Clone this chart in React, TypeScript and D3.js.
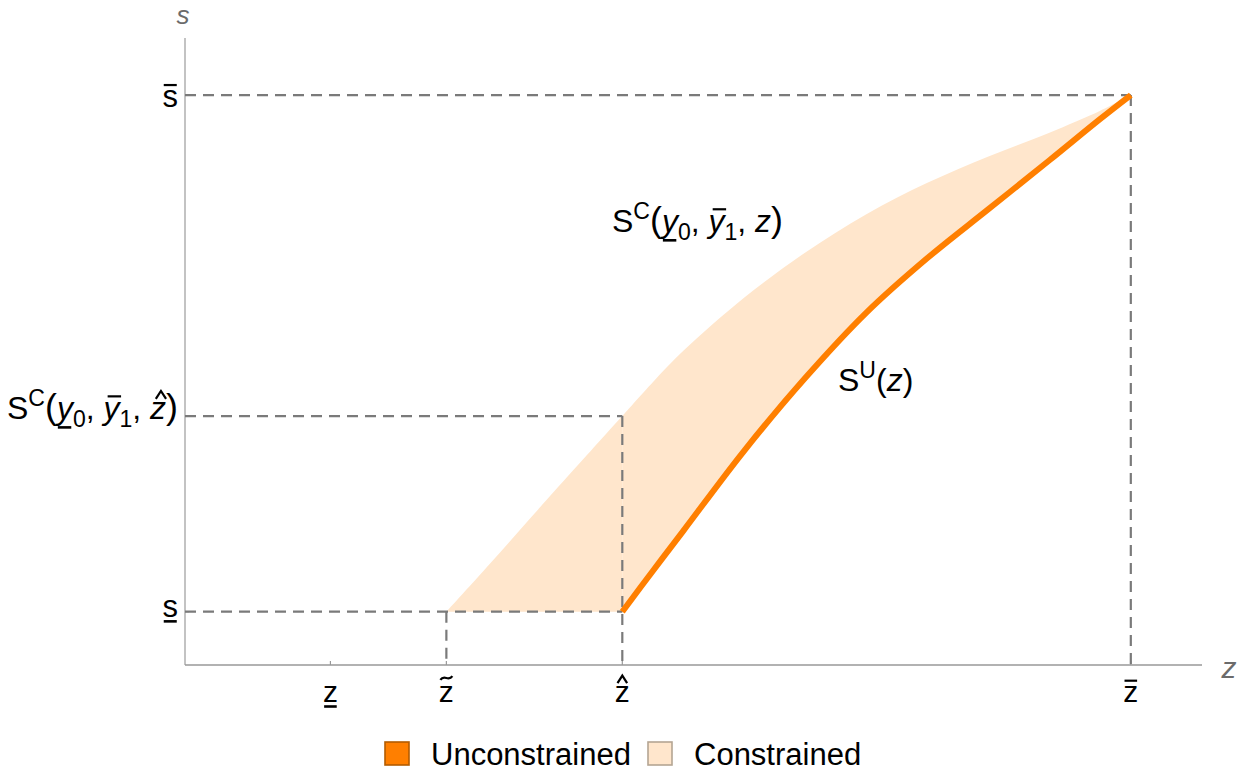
import React, { useRef, useEffect } from 'react';
import * as d3 from 'd3';

// unconstrained schedule S^U(z), from z-hat to z-bar
const zUnconstrained = [0.43, 0.46, 0.49, 0.55, 0.61, 0.67, 0.73, 0.79, 0.85, 0.90, 0.93];
const sUnconstrained = [0.085, 0.150, 0.214, 0.342, 0.458, 0.562, 0.649, 0.727, 0.805, 0.871, 0.909];

// upper edge of the constrained region S^C(y0, y1, z), from z-tilde to z-bar
const zConstrained = [0.257, 0.30, 0.35, 0.43, 0.46, 0.49, 0.55, 0.61, 0.67, 0.73, 0.79, 0.85, 0.90, 0.93];
const sConstrained = [0.085, 0.162, 0.253, 0.397, 0.451, 0.501, 0.586, 0.658, 0.719, 0.769, 0.811, 0.849, 0.884, 0.909];

// ticks: z_low, z_tilde, z_hat, z_bar / s_low, S^C(.., z_hat), s_bar
const zTicks = [0.143, 0.257, 0.43, 0.93];
const zTickMarks = ['under', 'tilde', 'hat', 'over'];
const sTicks = [0.085, 0.397, 0.909];

const legendLabels = ['Unconstrained', 'Constrained'];

const ORANGE = '#ff7f00';
const LIGHT = '#ffe6cc';
const DASH = '#7a7a7a';
const FONT = '"Liberation Sans", Arial, Helvetica, sans-serif';

type Seg = { t: string; it?: boolean; sup?: boolean; sub?: boolean; mark?: string; big?: boolean };

// text with sub/superscripts and accents drawn on top of chosen letters
const mathText = (g: any, x: number, y: number, anchor: string, segs: Seg[], fs: number, color = '#000') => {
	const text = g.append('text').attr('x', x).attr('y', y).attr('text-anchor', anchor)
		.attr('font-size', fs).attr('fill', color).attr('font-family', FONT)
	let cur = 0
	const info: any[] = []
	segs.forEach(s => {
		const off = s.sup ? -0.42 * fs : s.sub ? 0.24 * fs : 0
		const size = s.sup || s.sub ? 0.72 * fs : s.big ? 1.12 * fs : fs
		text.append('tspan').attr('dy', off - cur).attr('font-size', size)
			.attr('font-style', s.it ? 'italic' : 'normal').text(s.t)
		cur = off
		info.push({ ...s, size, base: y + off })
	})
	const node = text.node()
	let idx = 0
	info.forEach(s => {
		if (s.mark) {
			const e = node.getExtentOfChar(idx)
			const sz = s.size
			const cx = e.x + e.width / 2 + (s.it ? 0.05 * sz : 0)
			const hw = e.width * 0.42
			const m = g.append('path').attr('fill', 'none').attr('stroke', color).attr('stroke-width', 2.2)
			if (s.mark === 'over') {
				const yy = s.base - 0.71 * sz
				m.attr('d', `M${cx - hw + (s.it ? 0.04 * sz : 0)},${yy}H${cx + hw + (s.it ? 0.04 * sz : 0)}`)
			} else if (s.mark === 'under') {
				const yy = s.base + (s.t === 'y' ? 0.26 : 0.15) * sz
				const sh = s.it ? -0.06 * sz : 0
				m.attr('d', `M${cx - hw + sh},${yy}H${cx + hw + sh}`).attr('stroke-width', 2.6)
			} else if (s.mark === 'hat') {
				const b = s.base - 0.63 * sz, t = s.base - 0.88 * sz, sh = s.it ? 0.04 * sz : 0
				m.attr('d', `M${cx + sh - 0.16 * sz},${b}L${cx + sh},${t}L${cx + sh + 0.16 * sz},${b}`)
			} else if (s.mark === 'tilde') {
				const yy = s.base - 0.8 * sz, w = 0.2 * sz, a = 0.06 * sz
				m.attr('d', `M${cx - w},${yy + a}C${cx - w / 3},${yy - 2.2 * a} ${cx + w / 3},${yy + 2.2 * a} ${cx + w},${yy - a}`)
			}
		}
		idx += s.t.length
	})
	return text
}

const Chart = () => {
	const ref = useRef<SVGSVGElement>(null)
	const width = 1250, height = 776

	useEffect(() => {
		const svg = d3.select(ref.current)
		svg.selectAll('*').remove()

		const x = d3.scaleLinear().domain([0, 1]).range([185, 1202])
		const y = d3.scaleLinear().domain([0, 1]).range([665, 38])

		const [zLow, zTilde, zHat, zBar] = zTicks
		const [sLow, sHat, sBar] = sTicks

		// constrained region, split at z-hat (the seam sits under the dashed line)
		const left = zConstrained.map((z, i) => ({ z, hi: sConstrained[i], lo: sLow })).filter(d => d.z <= zHat)
		const right = zUnconstrained.map((z, i) => ({ z, hi: sConstrained[zConstrained.indexOf(z)], lo: sUnconstrained[i] }))
		const area = d3.area<any>().x(d => x(d.z)).y0(d => y(d.lo)).y1(d => y(d.hi)).curve(d3.curveCatmullRom)
		svg.append('path').attr('d', area(left)).attr('fill', LIGHT)
		svg.append('path').attr('d', area(right)).attr('fill', LIGHT)

		// axes
		svg.append('line').attr('x1', x(0)).attr('x2', x(0)).attr('y1', y(0)).attr('y2', y(1))
			.attr('stroke', '#aaa').attr('stroke-width', 1.4)
		svg.append('line').attr('x1', x(0)).attr('x2', x(1)).attr('y1', y(0)).attr('y2', y(0))
			.attr('stroke', '#999').attr('stroke-width', 1.4)
		zTicks.forEach(z => svg.append('line').attr('x1', x(z)).attr('x2', x(z)).attr('y1', y(0)).attr('y2', y(0) - 4)
			.attr('stroke', '#999').attr('stroke-width', 1.2))
		sTicks.forEach(s => svg.append('line').attr('x1', x(0)).attr('x2', x(0) + 4).attr('y1', y(s)).attr('y2', y(s))
			.attr('stroke', '#aaa').attr('stroke-width', 1.2))

		// dashed guides
		const guides = [
			[0, sBar, zBar, sBar], [0, sHat, zHat, sHat], [0, sLow, zHat, sLow],
			[zTilde, sLow, zTilde, 0], [zHat, sHat, zHat, 0], [zBar, sBar, zBar, 0],
		]
		guides.forEach(([a, b, c, d]) => svg.append('line')
			.attr('x1', x(a)).attr('y1', y(b)).attr('x2', x(c)).attr('y2', y(d))
			.attr('stroke', DASH).attr('stroke-width', 2.2).attr('stroke-dasharray', '11,7'))

		// unconstrained curve
		const line = d3.line<number>().x((d, i) => x(zUnconstrained[i])).y(d => y(d)).curve(d3.curveCatmullRom)
		svg.append('path').attr('d', line(sUnconstrained)).attr('fill', 'none')
			.attr('stroke', ORANGE).attr('stroke-width', 6)

		// axis names
		svg.append('text').attr('x', x(0) - 2).attr('y', 24).attr('text-anchor', 'middle').attr('font-size', 26)
			.attr('font-style', 'italic').attr('fill', '#6b6b6b').attr('font-family', FONT).text('s')
		svg.append('text').attr('x', 1229).attr('y', 678).attr('text-anchor', 'middle').attr('font-size', 30)
			.attr('font-style', 'italic').attr('fill', '#6b6b6b').attr('font-family', FONT).text('z')

		// z tick labels
		zTicks.forEach((z, i) => mathText(svg, x(z), 702, 'middle', [{ t: 'z', mark: zTickMarks[i] }], 30))

		// s tick labels
		mathText(svg, 178, y(sLow) + 5, 'end', [{ t: 's', mark: 'under' }], 31)
		mathText(svg, 178, y(sBar) + 12, 'end', [{ t: 's', mark: 'over' }], 31)
		mathText(svg, 178, y(sHat) + 3, 'end', [
			{ t: 'S' }, { t: 'C', sup: true }, { t: '(', big: true }, { t: 'y', it: true, mark: 'under' }, { t: '0', sub: true },
			{ t: ', ' }, { t: 'y', it: true, mark: 'over' }, { t: '1', sub: true }, { t: ', ' },
			{ t: 'z', it: true, mark: 'hat' }, { t: ')', big: true },
		], 32)

		// curve labels
		mathText(svg, 612, 232, 'start', [
			{ t: 'S' }, { t: 'C', sup: true }, { t: '(', big: true }, { t: 'y', it: true, mark: 'under' }, { t: '0', sub: true },
			{ t: ', ' }, { t: 'y', it: true, mark: 'over' }, { t: '1', sub: true }, { t: ', ' },
			{ t: 'z', it: true }, { t: ')', big: true },
		], 32)
		mathText(svg, 838, 391, 'start', [
			{ t: 'S' }, { t: 'U', sup: true }, { t: '(' }, { t: 'z', it: true }, { t: ')' },
		], 32)

		// legend
		const swatches = [[ORANGE, '#b35c00'], [LIGHT, '#b5a593']]
		const legendX = [385, 648]
		legendLabels.forEach((lab, i) => {
			svg.append('rect').attr('x', legendX[i]).attr('y', 742).attr('width', 24).attr('height', 23)
				.attr('fill', swatches[i][0]).attr('stroke', swatches[i][1]).attr('stroke-width', 1.6)
			svg.append('text').attr('x', legendX[i] + 46).attr('y', 765).attr('font-size', 31)
				.attr('font-family', FONT).attr('fill', '#000').text(lab)
		})
	}, [])

	return (
		<svg ref={ref} width={width} height={height}
			style={{ position: 'absolute', left: 0, top: 0, background: '#fff' }} />
	)
}

export default function App() {
	return <Chart />
}
